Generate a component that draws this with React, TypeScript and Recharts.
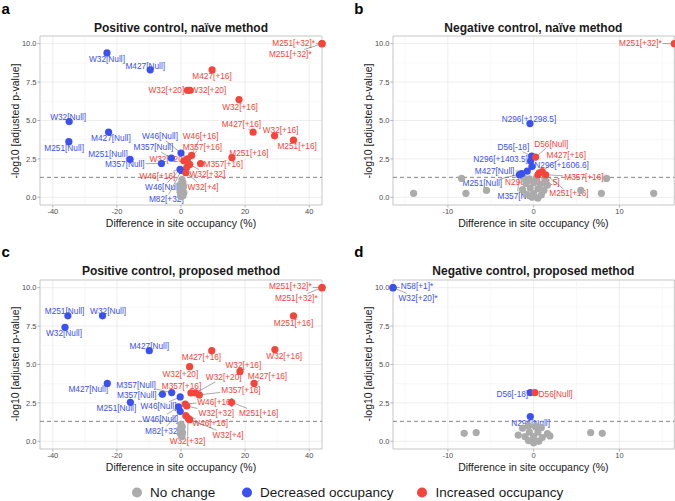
import { ScatterChart, Scatter, XAxis, YAxis, CartesianGrid, ReferenceLine, ReferenceArea } from "recharts"

type Pt = { site: string; diff: number; logp: number }
type Nudge = [number, number]

const FONT = "'Liberation Sans', Arial, Helvetica, sans-serif"
const BLUE = "#3B50F0"
const RED = "#F5443A"
const GRAY = "#ABABAB"

const yTicks = [0, 2.5, 5, 7.5, 10]
const yMinor = [1.25, 3.75, 6.25, 8.75]
const wideTicks = [-40, -20, 0, 20, 40]
const wideMinor = [-30, -10, 10, 30]
const narrowTicks = [-10, 0, 10]
const narrowMinor = [-15, -5, 5, 15]
const sigCutoff = -Math.log10(0.05)

// a: positive control, naive method
const aNoChange: Pt[] = [
  { site: "", diff: 0.3, logp: 1.15 }, { site: "", diff: 0.6, logp: 0.95 }, { site: "", diff: -0.2, logp: 0.85 },
  { site: "", diff: 0.8, logp: 0.7 }, { site: "", diff: 0.1, logp: 0.6 }, { site: "", diff: 0.5, logp: 0.45 },
  { site: "", diff: -0.3, logp: 0.35 }, { site: "", diff: 0.9, logp: 0.3 }, { site: "", diff: 0.2, logp: 0.15 },
  { site: "", diff: 0.6, logp: 0.1 }, { site: "", diff: -0.1, logp: 0.05 },
]
const aDecreased: Pt[] = [
  { site: "W32[Null]", diff: -23.1, logp: 9.4 },
  { site: "M427[Null]", diff: -9.6, logp: 8.3 },
  { site: "W32[Null]", diff: -34.9, logp: 4.93 },
  { site: "M427[Null]", diff: -22.6, logp: 4.24 },
  { site: "M251[Null]", diff: -35, logp: 3.62 },
  { site: "M251[Null]", diff: -15.9, logp: 2.47 },
  { site: "M357[Null]", diff: -6.1, logp: 2.2 },
  { site: "M357[Null]", diff: -3.0, logp: 2.55 },
  { site: "W46[Null]", diff: 0, logp: 2.88 },
  { site: "W46[Null]", diff: -0.3, logp: 1.82 },
  { site: "M82[+32]", diff: 0.1, logp: 1.75 },
]
const aIncreased: Pt[] = [
  { site: "M251[+32]*", diff: 44, logp: 10 },
  { site: "M251[+32]*", diff: 44, logp: 10 },
  { site: "M427[+16]", diff: 9.7, logp: 8.3 },
  { site: "W32[+20]", diff: 2.0, logp: 6.97 },
  { site: "W32[+20]", diff: 2.8, logp: 6.97 },
  { site: "W32[+16]", diff: 18.1, logp: 6.36 },
  { site: "M427[+16]", diff: 22.5, logp: 4.24 },
  { site: "W32[+16]", diff: 29.2, logp: 4.0 },
  { site: "M251[+16]", diff: 35.1, logp: 3.72 },
  { site: "M251[+16]", diff: 15.9, logp: 2.58 },
  { site: "M357[+16]", diff: 6.1, logp: 2.2 },
  { site: "W46[+16]", diff: 3.3, logp: 2.73 },
  { site: "M357[+16]", diff: 2.0, logp: 2.5 },
  { site: "W32[+20]", diff: 0.9, logp: 2.38 },
  { site: "W46[+16]", diff: 1.8, logp: 1.95 },
  { site: "W32[+32]", diff: 2.7, logp: 2.14 },
  { site: "W32[+4]", diff: 1.5, logp: 1.6 },
]

// b: negative control, naive method
const bNoChange: Pt[] = [
  { site: "", diff: -14.0, logp: 0.26 }, { site: "", diff: -8.4, logp: 1.23 }, { site: "", diff: -7.9, logp: 0.26 },
  { site: "", diff: -5.5, logp: 0.45 }, { site: "", diff: 5.5, logp: 0.45 }, { site: "", diff: 7.9, logp: 0.26 },
  { site: "", diff: 8.5, logp: 1.23 }, { site: "", diff: 14.0, logp: 0.26 },
  { site: "", diff: -1.2, logp: 1.3 }, { site: "", diff: -0.5, logp: 1.2 }, { site: "", diff: 0.3, logp: 1.25 },
  { site: "", diff: 1.3, logp: 1.2 }, { site: "", diff: -0.9, logp: 0.9 }, { site: "", diff: 0, logp: 0.95 },
  { site: "", diff: 0.8, logp: 0.85 }, { site: "", diff: 1.6, logp: 0.8 }, { site: "", diff: -1.3, logp: 0.5 },
  { site: "", diff: -0.4, logp: 0.6 }, { site: "", diff: 0.5, logp: 0.55 }, { site: "", diff: 1.2, logp: 0.45 },
  { site: "", diff: -0.8, logp: 0.2 }, { site: "", diff: 0, logp: 0.25 }, { site: "", diff: 0.9, logp: 0.15 },
  { site: "", diff: -0.2, logp: 0 }, { site: "", diff: 0.5, logp: -0.05 },
]
const bDecreased: Pt[] = [
  { site: "N296[+1298.5]", diff: -0.43, logp: 4.8 },
  { site: "D56[-18]", diff: -0.23, logp: 2.68 },
  { site: "N296[+1403.5]", diff: -0.35, logp: 2.36 },
  { site: "N296[+1606.6]", diff: -0.2, logp: 2.0 },
  { site: "M427[Null]", diff: -0.74, logp: 1.71 },
  { site: "M251[Null]", diff: -1.4, logp: 1.54 },
  { site: "M357[Null]", diff: -1.67, logp: 1.47 },
]
const bIncreased: Pt[] = [
  { site: "M251[+32]*", diff: 16.4, logp: 10 },
  { site: "D56[Null]", diff: 0.23, logp: 2.62 },
  { site: "M427[+16]", diff: 0.66, logp: 1.6 },
  { site: "N296[+1444.5]", diff: 0.5, logp: 1.47 },
  { site: "M357[+16]", diff: 1.4, logp: 1.47 },
  { site: "M251[+16]", diff: 1.0, logp: 1.67 },
]

// c: positive control, proposed method
const cNoChange: Pt[] = [
  { site: "", diff: 0, logp: 1.1 }, { site: "", diff: 0.4, logp: 0.95 }, { site: "", diff: -0.3, logp: 0.8 },
  { site: "", diff: 0.2, logp: 0.7 }, { site: "", diff: 0.5, logp: 0.55 }, { site: "", diff: -0.2, logp: 0.5 },
  { site: "", diff: 0.1, logp: 0.4 }, { site: "", diff: 0.3, logp: 0.3 },
]
const cDecreased: Pt[] = [
  { site: "M251[Null]", diff: -35.3, logp: 8.17 },
  { site: "W32[Null]", diff: -24.5, logp: 8.17 },
  { site: "W32[Null]", diff: -36.2, logp: 7.42 },
  { site: "M427[Null]", diff: -9.9, logp: 5.9 },
  { site: "M427[Null]", diff: -23, logp: 3.77 },
  { site: "M357[Null]", diff: -2.9, logp: 3.17 },
  { site: "M357[Null]", diff: -5.8, logp: 3.06 },
  { site: "M251[Null]", diff: -15.8, logp: 2.54 },
  { site: "W46[Null]", diff: -0.25, logp: 2.89 },
  { site: "W46[Null]", diff: -0.8, logp: 2.25 },
  { site: "M82[+32]", diff: -0.25, logp: 1.95 },
]
const cIncreased: Pt[] = [
  { site: "M251[+32]*", diff: 44, logp: 10 },
  { site: "M251[+32]*", diff: 44, logp: 10 },
  { site: "M251[+16]", diff: 35.1, logp: 8.16 },
  { site: "W32[+16]", diff: 29.3, logp: 5.97 },
  { site: "M427[+16]", diff: 9.6, logp: 5.9 },
  { site: "W32[+16]", diff: 18.4, logp: 4.55 },
  { site: "W32[+20]", diff: 2.7, logp: 4.86 },
  { site: "W32[+20]", diff: 4.5, logp: 3.15 },
  { site: "M427[+16]", diff: 22.8, logp: 3.77 },
  { site: "M357[+16]", diff: 3.1, logp: 3.15 },
  { site: "M357[+16]", diff: 5.7, logp: 3.02 },
  { site: "W46[+16]", diff: 1.3, logp: 2.43 },
  { site: "W32[+32]", diff: 1.8, logp: 2.3 },
  { site: "M251[+16]", diff: 15.8, logp: 2.54 },
  { site: "W46[+16]", diff: 1.5, logp: 1.67 },
  { site: "W32[+4]", diff: 2.7, logp: 1.41 },
  { site: "W32[+32]", diff: 2.2, logp: 1.5 },
]

// d: negative control, proposed method
const dNoChange: Pt[] = [
  { site: "", diff: -8.1, logp: 0.52 }, { site: "", diff: -6.7, logp: 0.57 }, { site: "", diff: 6.65, logp: 0.57 },
  { site: "", diff: 8.0, logp: 0.52 }, { site: "", diff: -1.8, logp: 0.4 }, { site: "", diff: -1.3, logp: 0.85 },
  { site: "", diff: -0.6, logp: 1.0 }, { site: "", diff: 0.2, logp: 0.95 }, { site: "", diff: 0.9, logp: 0.9 },
  { site: "", diff: 1.6, logp: 0.5 }, { site: "", diff: -1, logp: 0.3 }, { site: "", diff: 0, logp: 0.3 },
  { site: "", diff: 1, logp: 0.25 }, { site: "", diff: -0.5, logp: 0.6 }, { site: "", diff: 0.5, logp: 0.6 },
  { site: "", diff: -0.6, logp: 0.05 }, { site: "", diff: 0.6, logp: 0 }, { site: "", diff: 0, logp: -0.1 },
  { site: "", diff: 1.9, logp: 0.35 },
]
const dDecreased: Pt[] = [
  { site: "N58[+1]*", diff: -16.4, logp: 10 },
  { site: "W32[+20]*", diff: -16.4, logp: 10 },
  { site: "D56[-18]", diff: -0.39, logp: 3.17 },
  { site: "N296[Null]", diff: -0.39, logp: 1.61 },
]
const dIncreased: Pt[] = [
  { site: "D56[Null]", diff: 0.15, logp: 3.17 },
]

// label nudges in px (layout only), same order as the point arrays
const aDecNudge: Nudge[] = [[0, 6], [-5, -4.3], [-1, -4.7], [2.3, 6], [-4.7, 6.4], [-22, -5.3], [-36.7, 0.3], [-18, -10.7], [-21, -17], [-17, 18], [-15, 28.5]]
const aIncNudge: Nudge[] = [[-28.4, -0.3], [-31.7, 10.3], [0, 6.4], [-21, 0], [18.4, 0], [1, 7], [-11.7, -7.7], [6, -5.6], [3.7, 6.3], [17, -5], [22.7, 0.3], [9, -19.3], [15, -12.3], [-16.6, -1.7], [-29.3, 8.4], [17.7, 9.7], [17.3, 14]]
const bDecNudge: Nudge[] = [[-1, -5], [-18.3, -9], [-30, -1.7], [29.7, -1.5], [-32.7, 0], [-39.3, 9.7], [-2, 21.3]]
const bIncNudge: Nudge[] = [[-33.9, -0.3], [15.7, -13.4], [27, -18], [-5.6, 7.3], [38.3, 2.3], [26.7, 21.7]]
const cDecNudge: Nudge[] = [[-3.3, -5], [5.6, -5], [-1, 5.6], [0, -5], [-19, 5.6], [-35.7, -8], [-25.6, 1], [-14, 6], [-21.7, 9.4], [-18.3, 12], [-17.7, 19.3]]
const cIncNudge: Nudge[] = [[-31.7, -1.3], [-25.7, 10.3], [0, 6.7], [9.3, 6.7], [-10.3, 6.7], [3.4, -6.7], [-9.3, 7], [28.3, -15.6], [13.4, -7.4], [-9.4, -6.6], [41.7, -5], [30, -2.3], [29.5, 7], [27, 10.6], [24.3, 7.7], [38.4, 15], [-0.5, 23]]
const dDecNudge: Nudge[] = [[24, -1.3], [25, 10.3], [-18, 1], [0.3, 6.3]]
const dIncNudge: Nudge[] = [[20.7, 1]]

const LABEL_SIZE = 8.3
const charW: Record<string, number> = {
  M: 0.833, W: 0.944, N: 0.722, D: 0.722, "[": 0.278, "]": 0.278, "+": 0.584, "-": 0.333, ".": 0.278, "*": 0.389, u: 0.556, l: 0.222,
}
const textWidth = (s: string) => [...s].reduce((w, c) => w + (charW[c] ?? 0.556), 0) * LABEL_SIZE

function renderLabel(p: any) {
  const d = p.payload ?? p
  const { cx, cy } = p
  const lx = cx + d.dx
  const ly = cy + d.dy
  const hw = textWidth(d.site) / 2 + 1
  const hh = 4.5
  const vx = cx - lx
  const vy = cy - ly
  const s = Math.min(vx ? hw / Math.abs(vx) : Infinity, vy ? hh / Math.abs(vy) : Infinity)
  let seg = null
  if (s < 1) {
    const ex = lx + vx * s
    const ey = ly + vy * s
    if (Math.hypot(cx - ex, cy - ey) > 4) {
      seg = <line x1={cx} y1={cy} x2={ex} y2={ey} stroke="#555" strokeWidth={0.5} />
    }
  }
  return (
    <g>
      {seg}
      <text x={lx} y={ly} textAnchor="middle" dominantBaseline="central" fontSize={LABEL_SIZE} fontFamily={FONT} fill={d.color}>
        {d.site}
      </text>
    </g>
  )
}

const dot = (color: string) => (p: any) => <circle cx={p.cx} cy={p.cy} r={3.6} fill={color} />

type PanelProps = {
  letter: string
  title: string
  left: number
  top: number
  plotW: number
  plotH: number
  xMax: number
  xTicks: number[]
  xMinor: number[]
  noChange: Pt[]
  dec: Pt[]
  inc: Pt[]
  decNudge: Nudge[]
  incNudge: Nudge[]
}

function Panel({ letter, title, left, top, plotW, plotH, xMax, xTicks, xMinor, noChange, dec, inc, decNudge, incNudge }: PanelProps) {
  const padT = 8
  const padR = 6
  const yW = 40
  const xH = 18
  const labels = [
    ...dec.map((p, i) => ({ ...p, dx: decNudge[i][0], dy: decNudge[i][1], color: BLUE })),
    ...inc.map((p, i) => ({ ...p, dx: incNudge[i][0], dy: incNudge[i][1], color: RED })),
  ]
  const tickStyle = { fill: "#4D4D4D", fontSize: 7.5, fontFamily: FONT }
  const textBase = { position: "absolute" as const, fontFamily: FONT, whiteSpace: "nowrap" as const, lineHeight: 1, color: "#1A1A1A" }
  return (
    <>
      <div style={{ ...textBase, left: left - 38.5, top: top - 35.5, fontSize: 15, fontWeight: "bold", color: "#000" }}>{letter}</div>
      <div style={{ ...textBase, left: left + plotW / 2, top: top - 8.5, fontSize: 12, fontWeight: "bold", transform: "translate(-50%, -50%)" }}>{title}</div>
      <div style={{ ...textBase, left: left + plotW / 2, top: top + plotH + 18, fontSize: 10.5, transform: "translate(-50%, -50%)" }}>Difference in site occupancy (%)</div>
      <div style={{ ...textBase, left: left - 25, top: top + plotH / 2, fontSize: 10.5, transform: "translate(-50%, -50%) rotate(-90deg)" }}>-log10 [adjusted p-value]</div>
      <div style={{ position: "absolute", left: left - yW, top: top - padT }}>
        <ScatterChart width={plotW + yW + padR} height={plotH + padT + xH} margin={{ top: padT, right: padR, bottom: 0, left: 0 }}>
          <CartesianGrid stroke="#E2E2E2" strokeWidth={0.6} />
          {xMinor.map((v) => (
            <ReferenceLine key={"xm" + v} x={v} stroke="#F1F1F1" strokeWidth={0.5} />
          ))}
          {yMinor.map((v) => (
            <ReferenceLine key={"ym" + v} y={v} stroke="#F1F1F1" strokeWidth={0.5} />
          ))}
          <XAxis type="number" dataKey="diff" domain={[-xMax, xMax]} ticks={xTicks} interval={0} height={xH}
            axisLine={false} tickLine={{ stroke: "#B3B3B3" }} tickSize={2.5} tickMargin={1} tick={tickStyle} />
          <YAxis type="number" dataKey="logp" domain={[-0.5, 10.5]} ticks={yTicks} interval={0} width={yW}
            axisLine={false} tickLine={{ stroke: "#B3B3B3" }} tickSize={2.5} tickMargin={1} tick={tickStyle}
            tickFormatter={(v: number) => v.toFixed(1)} />
          <ReferenceArea x1={-xMax} x2={xMax} y1={-0.5} y2={10.5} fill="none" fillOpacity={0} stroke="#C4C4C4" strokeWidth={0.8} />
          <ReferenceLine y={sigCutoff} stroke="#777" strokeDasharray="4 3" strokeWidth={0.9} />
          <Scatter data={labels} shape={renderLabel} isAnimationActive={false} />
          <Scatter data={noChange} shape={dot(GRAY)} isAnimationActive={false} />
          <Scatter data={dec} shape={dot(BLUE)} isAnimationActive={false} />
          <Scatter data={inc} shape={dot(RED)} isAnimationActive={false} />
        </ScatterChart>
      </div>
    </>
  )
}

const legendItems = [
  { name: "No change", color: GRAY, x: 131.7 },
  { name: "Decreased occupancy", color: BLUE, x: 241.7 },
  { name: "Increased occupancy", color: RED, x: 417.3 },
]

export default function App() {
  return (
    <div style={{ position: "absolute", left: 0, top: 0, width: 675, height: 501, background: "#fff", overflow: "hidden" }}>
      <Panel letter="a" title="Positive control, naïve method" left={40} top={36} plotW={282} plotH={169} xMax={44}
        xTicks={wideTicks} xMinor={wideMinor} noChange={aNoChange} dec={aDecreased} inc={aIncreased} decNudge={aDecNudge} incNudge={aIncNudge} />
      <Panel letter="b" title="Negative control, naïve method" left={392.7} top={36} plotW={281.3} plotH={169} xMax={16.4}
        xTicks={narrowTicks} xMinor={narrowMinor} noChange={bNoChange} dec={bDecreased} inc={bIncreased} decNudge={bDecNudge} incNudge={bIncNudge} />
      <Panel letter="c" title="Positive control, proposed method" left={40} top={279.5} plotW={282} plotH={169} xMax={44}
        xTicks={wideTicks} xMinor={wideMinor} noChange={cNoChange} dec={cDecreased} inc={cIncreased} decNudge={cDecNudge} incNudge={cIncNudge} />
      <Panel letter="d" title="Negative control, proposed method" left={392.7} top={279.5} plotW={281.3} plotH={169} xMax={16.4}
        xTicks={narrowTicks} xMinor={narrowMinor} noChange={dNoChange} dec={dDecreased} inc={dIncreased} decNudge={dDecNudge} incNudge={dIncNudge} />
      {legendItems.map((it) => (
        <div key={it.name} style={{ position: "absolute", left: it.x, top: 492, transform: "translateY(-50%)", display: "flex", alignItems: "center", fontFamily: FONT, fontSize: 13.5, color: "#1A1A1A", whiteSpace: "nowrap" }}>
          <span style={{ width: 10, height: 10, borderRadius: 5, background: it.color, marginRight: 8.3, display: "inline-block" }} />
          {it.name}
        </div>
      ))}
    </div>
  )
}
